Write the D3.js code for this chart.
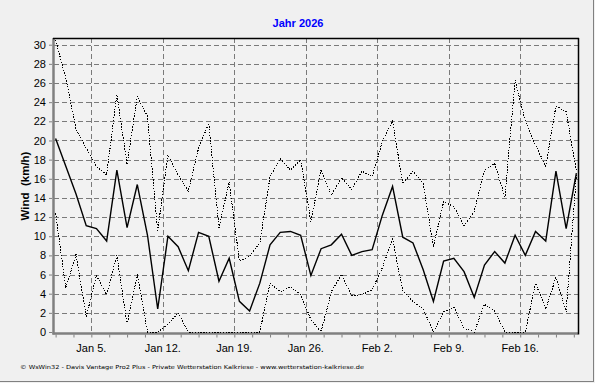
<!DOCTYPE html>
<html><head><meta charset="utf-8">
<script src="https://cdn.jsdelivr.net/npm/d3@7"></script>
<style>body{margin:0;background:#f0f0f0;} svg{display:block}</style>
</head><body>
<svg id="c" width="595" height="383"></svg>
<script>
// ---- data ----
const days = d3.timeDay.range(new Date(2026,0,1), new Date(2026,1,22)).map(d => d3.timeHour.offset(d, 12));
const avgWind = [20.2,17.3,14.4,11.1,10.8,9.5,16.9,10.9,15.4,10.1,2.4,10.0,8.9,6.4,10.4,10.0,5.3,7.7,3.2,2.2,5.1,9.1,10.4,10.5,10.1,5.9,8.7,9.1,10.2,8.0,8.4,8.6,12.2,15.2,9.9,9.3,6.5,3.2,7.4,7.7,6.3,3.6,7.0,8.4,7.2,10.1,8.0,10.5,9.5,16.8,10.8,16.6];
const maxWind = [30.5,26.5,21.2,19.2,17.3,16.4,24.8,17.5,24.6,22.5,10.6,18.5,16.4,14.7,19.2,21.8,10.9,15.7,7.4,7.9,9.3,16.2,18.1,16.9,18.0,11.5,17.0,14.3,16.1,14.9,16.8,16.2,19.9,22.0,15.5,16.8,15.5,8.9,13.6,13.1,11.1,12.6,16.9,17.6,14.1,26.3,22.0,19.5,17.3,23.6,23.0,16.8];
const minWind = [12.4,4.6,8.1,1.6,5.9,3.9,8.0,0.8,6.0,0,0,0.8,2.0,0,0,0,0,0,0,0,0,5.1,4.2,4.7,3.9,1.3,0,4.2,6.0,3.8,3.9,4.4,6.7,9.7,4.3,3.2,2.4,0,2.1,2.6,0.4,0,2.9,2.2,0,0,0,5.1,2.4,5.7,2.1,16.4];
const yTicks = d3.range(0, 31, 2);
const xTickDates = [new Date(2026,0,5), new Date(2026,0,12), new Date(2026,0,19), new Date(2026,0,26), new Date(2026,1,2), new Date(2026,1,9), new Date(2026,1,16)];
const xTickLabels = ["Jan 5.", "Jan 12.", "Jan 19.", "Jan 26.", "Feb 2.", "Feb 9.", "Feb 16."];
const title = "Jahr 2026";
const yTitle = "Wind  (km/h)";
const footer = "\u00a9 WsWin32  -  Davis Vantage Pro2 Plus  -  Private Wetterstation Kalkriese - www.wetterstation-kalkriese.de";

// ---- layout ----
const L = 54, R = 578, T = 38, B = 332;
const svg = d3.select("#c");
const x = d3.scaleTime().domain([new Date(2026,0,1,8,14), new Date(2026,1,21,15,50)]).range([L, R]);
const y = d3.scaleLinear().domain([0, 30.7]).range([B, T]);

svg.append("rect").attr("width",595).attr("height",383).attr("fill","#f0f0f0");
svg.append("line").attr("x1",593.5).attr("x2",593.5).attr("y1",0).attr("y2",382).attr("stroke","#808080");
svg.append("line").attr("x1",0).attr("x2",594).attr("y1",381.5).attr("y2",381.5).attr("stroke","#808080");
svg.append("rect").attr("x",L).attr("y",T).attr("width",R-L).attr("height",B-T).attr("fill","#f2f2f2");

// grid
const g = svg.append("g");
g.selectAll("line.h").data(yTicks.filter(v => v > 0)).join("line")
  .attr("x1", L).attr("x2", R).attr("y1", d => Math.round(y(d))+0.5).attr("y2", d => Math.round(y(d))+0.5)
  .attr("stroke","#7a7a7a").attr("stroke-dasharray","5,3");
g.selectAll("line.v").data(xTickDates).join("line")
  .attr("x1", d => Math.round(x(d))+0.5).attr("x2", d => Math.round(x(d))+0.5).attr("y1", T).attr("y2", B)
  .attr("stroke","#7a7a7a").attr("stroke-dasharray","5,3");

// axes lines (under the series)
svg.append("line").attr("x1",L-0.5).attr("x2",L-0.5).attr("y1",T).attr("y2",B+2.5).attr("stroke","#808080").attr("stroke-width",2.5);
svg.append("line").attr("x1",L-1.5).attr("x2",R).attr("y1",B+1.5).attr("y2",B+1.5).attr("stroke","#808080").attr("stroke-width",2.5);

// series
const line = vals => d3.line().x((d,i) => x(days[i])).y(d => y(d))(vals);
svg.append("path").attr("d", line(maxWind)).attr("fill","none").attr("stroke","#000").attr("stroke-width",1).attr("stroke-dasharray","1.4,1.4").attr("shape-rendering","crispEdges");
svg.append("path").attr("d", line(minWind)).attr("fill","none").attr("stroke","#000").attr("stroke-width",1).attr("stroke-dasharray","1.4,1.4").attr("shape-rendering","crispEdges");
svg.append("path").attr("d", line(avgWind)).attr("fill","none").attr("stroke","#000").attr("stroke-width",1.4);

// borders
svg.append("line").attr("x1",L-1).attr("x2",R+1).attr("y1",T+0.5).attr("y2",T+0.5).attr("stroke","#000").attr("stroke-width",1.5);
svg.append("line").attr("x1",R+0.5).attr("x2",R+0.5).attr("y1",T).attr("y2",B+2.5).attr("stroke","#000").attr("stroke-width",1.5);

// y axis
const yAxis = d3.axisLeft(y).tickValues(yTicks).tickSize(3).tickPadding(3).tickFormat(d3.format("d"));
const ya = svg.append("g").attr("transform",`translate(${L-2},0)`).call(yAxis);
ya.select(".domain").remove();
ya.selectAll(".tick line").attr("stroke","#808080");
ya.selectAll("text").attr("font-family","'Liberation Sans', Arial, sans-serif").attr("font-size",11).attr("fill","#000");

// x axis minor ticks + labels
const minor = d3.range(-3, 30).map(k => new Date(+xTickDates[0] + k*42*3600e3)).filter(d => x(d) >= L && x(d) <= R - 2);
const xAxis = d3.axisBottom(x).tickValues(minor).tickSize(3).tickFormat("");
const xa = svg.append("g").attr("transform",`translate(0,${B+2.5})`).call(xAxis);
xa.select(".domain").remove();
xa.selectAll(".tick line").attr("stroke","#808080");
svg.selectAll("text.xl").data(xTickDates).join("text").attr("class","xl")
  .attr("x", d => x(d)).attr("y", 352).attr("text-anchor","middle")
  .attr("font-family","'Liberation Sans', Arial, sans-serif").attr("font-size",11)
  .text((d,i) => xTickLabels[i]);

// titles
svg.append("text").attr("x",298).attr("y",27).attr("text-anchor","middle")
  .attr("font-family","'Liberation Sans', Arial, sans-serif").attr("font-size",11).attr("font-weight","bold")
  .attr("fill","#0000ff").text(title);
svg.append("text").attr("transform","translate(29,186) rotate(-90)").attr("text-anchor","middle")
  .attr("font-family","'Liberation Sans', Arial, sans-serif").attr("font-size",11.5).attr("font-weight","bold")
  .attr("xml:space","preserve").style("white-space","pre").text(yTitle);
svg.append("text").attr("x",20).attr("y",369)
  .attr("font-family","'DejaVu Sans', sans-serif").attr("font-size",5.5)
  .attr("textLength",344).attr("lengthAdjust","spacingAndGlyphs").text(footer);
</script>
</body></html>
